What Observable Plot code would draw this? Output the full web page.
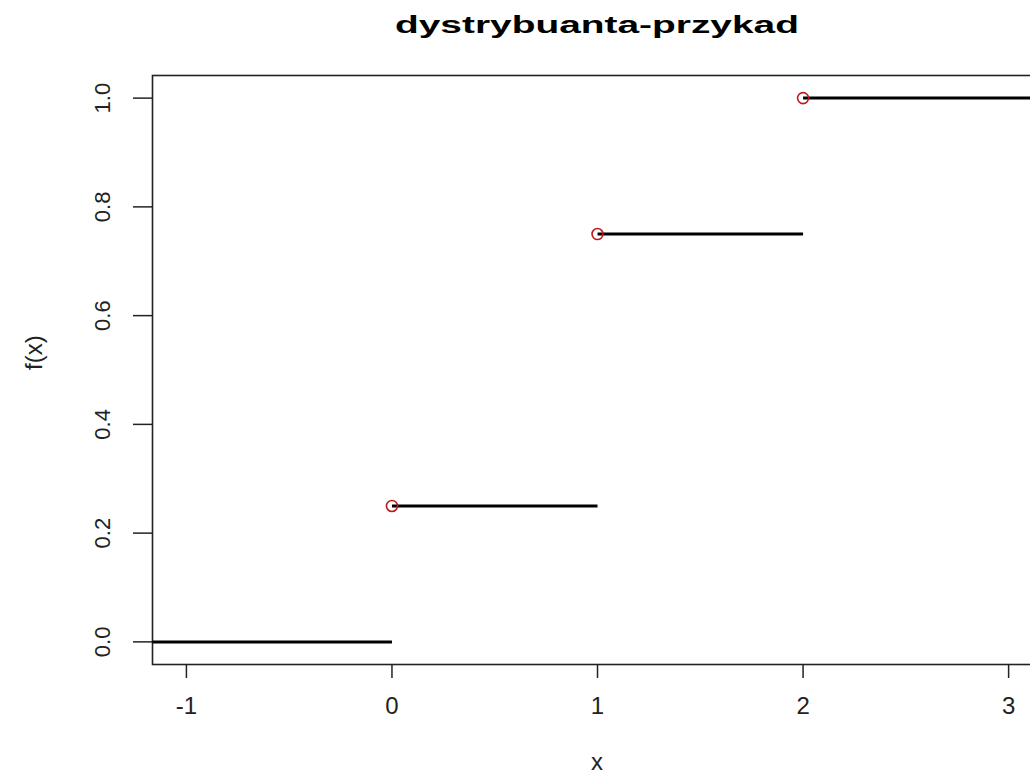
<!DOCTYPE html>
<html><head><meta charset="utf-8">
<script src="https://cdn.jsdelivr.net/npm/d3@7"></script>
<script src="https://cdn.jsdelivr.net/npm/@observablehq/plot@0.6"></script>
<style>html,body{margin:0;padding:0;background:#fff;overflow:hidden;width:1030px;height:774px;} svg{max-width:none !important;}</style>
</head><body><div id="chart"></div>
<script>
const title = "dystrybuanta-przykad";
const xLabel = "x";
const yLabel = "f(x)";
const jumpX = [0, 1, 2];
const stepLevels = [0, 0.25, 0.75, 1];
const xTicks = [-1, 0, 1, 2, 3];
const yTicks = [0, 0.2, 0.4, 0.6, 0.8, 1.0];
const xDomain = [-1.165, 3.16];
const yDomain = [-0.0416, 1.0416];

const segments = stepLevels.map((y, i) => ({
  x1: i === 0 ? xDomain[0] : jumpX[i - 1],
  x2: i < jumpX.length ? jumpX[i] : xDomain[1],
  y
}));
const points = jumpX.map((x, i) => ({x, y: stepLevels[i + 1]}));

const W = 1060;
const chart = Plot.plot({
  width: W, height: 774,
  marginLeft: 152, marginRight: W - 1041, marginTop: 75, marginBottom: 110,
  x: {domain: xDomain},
  y: {domain: yDomain},
  style: {fontFamily: "'Liberation Sans', Arial, sans-serif", background: "#fff", color: "#222", maxWidth: "none"},
  marks: [
    Plot.axisX({ticks: xTicks, tickFormat: d => String(d), tickSize: 14, tickPadding: 18, fontSize: 24, label: null, strokeWidth: 1.5}),
    Plot.axisY({ticks: yTicks, tickSize: 19, text: null, label: null, strokeWidth: 1.5}),
    Plot.axisY({ticks: yTicks, tickFormat: d => d.toFixed(1), tickSize: 0, tickPadding: 43, fontSize: 22, rotate: -90, textAnchor: "middle", lineAnchor: "bottom", label: null}),
    Plot.frame({stroke: "#222", strokeWidth: 1.6}),
    Plot.link(segments, {x1: "x1", x2: "x2", y1: "y", y2: "y", stroke: "#000", strokeWidth: 3}),
    Plot.dot(points, {x: "x", y: "y", r: 5.5, stroke: "#c01818", strokeWidth: 1.6, fill: "none"}),
    Plot.text([title], {text: d => d, frameAnchor: "top", dy: -59, fontSize: 23, fontWeight: "bold", fill: "#000"}),
    Plot.text([xLabel], {text: d => d, frameAnchor: "bottom", dy: 105, fontSize: 24, fill: "#222"}),
    Plot.text([yLabel], {text: d => d, frameAnchor: "left", dx: -118, rotate: -90, fontSize: 24, fill: "#222"})
  ]
});
d3.select(chart).selectAll("text").filter(function() { return this.textContent === title; })
  .attr("textLength", 404).attr("lengthAdjust", "spacingAndGlyphs");
document.getElementById("chart").appendChild(chart);
</script>
</body></html>
